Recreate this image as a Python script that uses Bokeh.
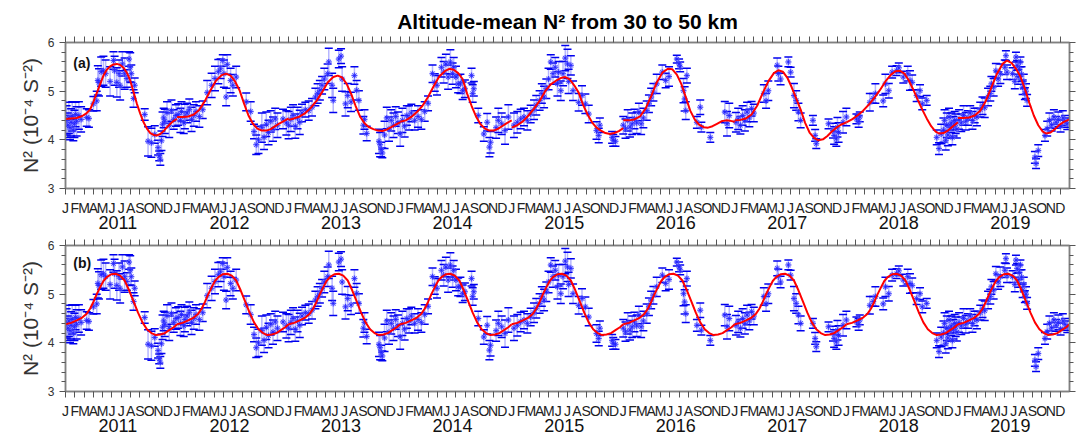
from bokeh.plotting import figure
from bokeh.models import (FixedTicker, LinearAxis, CustomJSTickFormatter, Range1d,
                          Label, ColumnDataSource, CustomLabelingPolicy)
from bokeh.layouts import column
from bokeh.embed import file_html
from bokeh.resources import INLINE

# ---------------- data ----------------
YEARS = [2011, 2012, 2013, 2014, 2015, 2016, 2017, 2018, 2019]
MONTH_LETTERS = ["J", "F", "M", "A", "M", "J", "J", "A", "S", "O", "N", "D"]
Y_TICKS = [3, 4, 5, 6]
TITLE = "Altitude-mean N² from 30 to 50 km"
Y_LABEL = "N² (10⁻⁴ S⁻²)"
PANEL_TAGS = ["(a)", "(b)"]

# observations: (decimal year, N2 value, error half-width)
obs_2011 = [
    (2011.01, 4.40, 0.30), (2011.02, 4.30, 0.25), (2011.03, 4.45, 0.32), (2011.04, 4.25, 0.25), (2011.05, 4.36, 0.28),
    (2011.06, 4.48, 0.30), (2011.07, 4.20, 0.22), (2011.08, 4.33, 0.28), (2011.09, 4.52, 0.25), (2011.10, 4.38, 0.30),
    (2011.12, 4.50, 0.28), (2011.14, 4.42, 0.26), (2011.19, 4.46, 0.18), (2011.21, 4.44, 0.18), (2011.25, 4.74, 0.15),
    (2011.28, 4.80, 0.20), (2011.29, 5.22, 0.30), (2011.30, 5.18, 0.28), (2011.32, 5.40, 0.30), (2011.34, 5.42, 0.30),
    (2011.36, 5.36, 0.28), (2011.40, 5.20, 0.30), (2011.43, 5.63, 0.18), (2011.44, 5.42, 0.30), (2011.46, 5.18, 0.30),
    (2011.48, 5.36, 0.28), (2011.49, 5.12, 0.30), (2011.51, 5.56, 0.25), (2011.53, 5.36, 0.32), (2011.55, 5.26, 0.18),
    (2011.57, 5.66, 0.15), (2011.58, 5.49, 0.30), (2011.59, 5.36, 0.18), (2011.61, 4.85, 0.18), (2011.62, 5.12, 0.15),
    (2011.71, 4.52, 0.12), (2011.74, 3.97, 0.30), (2011.77, 3.94, 0.30), (2011.80, 4.11, 0.18), (2011.83, 3.84, 0.15),
    (2011.84, 3.67, 0.10), (2011.85, 3.60, 0.12), (2011.86, 3.98, 0.20), (2011.87, 4.32, 0.25), (2011.88, 4.45, 0.20),
    (2011.89, 4.38, 0.25), (2011.91, 4.56, 0.22), (2011.93, 4.30, 0.25), (2011.95, 4.60, 0.22), (2011.97, 4.42, 0.20),
    (2011.99, 4.50, 0.22),
]
obs_2012 = [
    (2012.01, 4.52, 0.22), (2012.03, 4.40, 0.25), (2012.04, 4.58, 0.20), (2012.06, 4.35, 0.22), (2012.07, 4.48, 0.25),
    (2012.09, 4.55, 0.20), (2012.11, 4.62, 0.22), (2012.13, 4.42, 0.25), (2012.15, 4.50, 0.22), (2012.17, 4.58, 0.20),
    (2012.20, 4.48, 0.22), (2012.23, 4.62, 0.18), (2012.27, 4.97, 0.25), (2012.31, 5.12, 0.25), (2012.34, 5.26, 0.25),
    (2012.37, 5.40, 0.25), (2012.39, 5.46, 0.20), (2012.41, 5.63, 0.12), (2012.42, 5.36, 0.28), (2012.44, 4.88, 0.18),
    (2012.45, 5.55, 0.20), (2012.48, 5.22, 0.25), (2012.50, 5.12, 0.22), (2012.53, 5.29, 0.22), (2012.62, 4.78, 0.18),
    (2012.66, 4.58, 0.20), (2012.69, 4.17, 0.15), (2012.71, 3.90, 0.20), (2012.73, 4.00, 0.28), (2012.76, 4.25, 0.30),
    (2012.78, 4.05, 0.25), (2012.80, 4.32, 0.25), (2012.82, 4.15, 0.25), (2012.84, 4.38, 0.22), (2012.86, 4.22, 0.25),
    (2012.88, 4.43, 0.22), (2012.90, 4.30, 0.25), (2012.95, 4.43, 0.20), (2012.98, 4.35, 0.25),
]
obs_2013 = [
    (2013.00, 4.30, 0.28), (2013.02, 4.42, 0.25), (2013.04, 4.50, 0.22), (2013.06, 4.28, 0.25), (2013.08, 4.45, 0.22),
    (2013.10, 4.36, 0.25), (2013.12, 4.55, 0.18), (2013.15, 4.62, 0.15), (2013.18, 4.60, 0.20), (2013.21, 4.67, 0.18),
    (2013.24, 4.88, 0.18), (2013.26, 4.95, 0.20), (2013.28, 5.02, 0.20), (2013.30, 5.12, 0.18), (2013.32, 5.25, 0.22),
    (2013.35, 5.36, 0.20), (2013.36, 5.60, 0.28), (2013.39, 5.12, 0.25), (2013.40, 4.81, 0.25), (2013.45, 5.66, 0.18),
    (2013.47, 5.72, 0.15), (2013.48, 5.25, 0.25), (2013.51, 4.74, 0.25), (2013.53, 4.91, 0.25), (2013.56, 4.78, 0.20),
    (2013.59, 5.32, 0.18), (2013.61, 5.02, 0.20), (2013.63, 4.81, 0.20), (2013.67, 4.30, 0.18), (2013.68, 4.42, 0.20),
    (2013.70, 4.13, 0.15), (2013.81, 3.97, 0.25), (2013.82, 3.90, 0.25), (2013.83, 3.80, 0.15), (2013.84, 3.73, 0.10),
    (2013.86, 4.10, 0.28), (2013.88, 4.45, 0.22), (2013.90, 4.22, 0.25), (2013.92, 4.40, 0.22), (2013.94, 4.30, 0.25),
    (2013.96, 4.48, 0.20), (2013.98, 4.35, 0.22),
]
obs_2014 = [
    (2014.00, 4.12, 0.25), (2014.02, 4.40, 0.25), (2014.04, 4.28, 0.22), (2014.06, 4.50, 0.20), (2014.08, 4.45, 0.25),
    (2014.10, 4.55, 0.18), (2014.13, 4.40, 0.20), (2014.16, 4.48, 0.22), (2014.19, 4.42, 0.20), (2014.22, 4.58, 0.20),
    (2014.25, 4.75, 0.15), (2014.29, 5.36, 0.18), (2014.31, 5.18, 0.18), (2014.33, 5.12, 0.20), (2014.37, 5.49, 0.20),
    (2014.39, 5.39, 0.22), (2014.41, 5.56, 0.20), (2014.43, 5.29, 0.25), (2014.45, 5.60, 0.25), (2014.47, 5.36, 0.22),
    (2014.48, 5.49, 0.20), (2014.50, 5.29, 0.22), (2014.52, 5.15, 0.18), (2014.54, 5.15, 0.20), (2014.56, 5.01, 0.18),
    (2014.58, 5.05, 0.18), (2014.64, 5.32, 0.15), (2014.65, 4.95, 0.18), (2014.66, 5.05, 0.15), (2014.70, 4.50, 0.15),
    (2014.75, 4.12, 0.15), (2014.78, 4.36, 0.18), (2014.80, 3.85, 0.20), (2014.81, 3.95, 0.22), (2014.86, 4.25, 0.22),
    (2014.88, 4.40, 0.25), (2014.91, 4.33, 0.22), (2014.94, 4.19, 0.28), (2014.97, 4.47, 0.25),
]
obs_2015 = [
    (2015.02, 4.30, 0.25), (2015.05, 4.36, 0.22), (2015.08, 4.43, 0.20), (2015.11, 4.47, 0.18), (2015.14, 4.40, 0.20),
    (2015.17, 4.53, 0.18), (2015.20, 4.62, 0.20), (2015.22, 4.71, 0.20), (2015.25, 4.81, 0.20), (2015.27, 4.95, 0.20),
    (2015.29, 4.88, 0.22), (2015.31, 5.05, 0.20), (2015.33, 5.25, 0.22), (2015.35, 5.60, 0.15), (2015.37, 5.36, 0.22),
    (2015.39, 5.49, 0.20), (2015.41, 5.15, 0.25), (2015.42, 5.39, 0.22), (2015.44, 5.01, 0.20), (2015.46, 5.36, 0.25),
    (2015.48, 5.68, 0.26), (2015.50, 5.56, 0.30), (2015.51, 5.20, 0.25), (2015.53, 5.53, 0.20), (2015.55, 5.01, 0.20),
    (2015.60, 4.77, 0.18), (2015.63, 4.91, 0.20), (2015.66, 4.74, 0.20), (2015.69, 4.53, 0.18), (2015.76, 4.19, 0.18),
    (2015.78, 4.09, 0.15), (2015.79, 4.30, 0.15), (2015.90, 4.05, 0.12), (2015.91, 3.99, 0.12), (2015.93, 3.97, 0.10),
]
obs_2016 = [
    (2016.00, 4.30, 0.18), (2016.02, 4.23, 0.20), (2016.04, 4.40, 0.22), (2016.06, 4.26, 0.20), (2016.08, 4.33, 0.22),
    (2016.10, 4.43, 0.20), (2016.12, 4.35, 0.22), (2016.14, 4.57, 0.18), (2016.16, 4.33, 0.22), (2016.18, 4.45, 0.20),
    (2016.21, 4.60, 0.20), (2016.23, 4.74, 0.18), (2016.25, 4.88, 0.18), (2016.27, 4.98, 0.18), (2016.30, 5.15, 0.20),
    (2016.35, 5.39, 0.15), (2016.38, 5.22, 0.15), (2016.41, 5.30, 0.20), (2016.48, 5.66, 0.08), (2016.50, 5.56, 0.10),
    (2016.51, 5.50, 0.10), (2016.54, 5.01, 0.25), (2016.55, 4.84, 0.25), (2016.56, 4.60, 0.18), (2016.57, 5.32, 0.15),
    (2016.66, 4.36, 0.12), (2016.69, 4.67, 0.15), (2016.70, 4.26, 0.10), (2016.78, 4.05, 0.10),
    (2016.91, 4.57, 0.22), (2016.93, 4.33, 0.25), (2016.95, 4.50, 0.25),
]
obs_2017 = [
    (2017.01, 4.36, 0.20), (2017.03, 4.43, 0.22), (2017.05, 4.30, 0.18), (2017.07, 4.50, 0.20), (2017.09, 4.40, 0.22),
    (2017.11, 4.57, 0.20), (2017.13, 4.45, 0.18), (2017.15, 4.64, 0.15), (2017.17, 4.55, 0.18), (2017.26, 4.95, 0.18),
    (2017.28, 4.80, 0.15), (2017.30, 5.01, 0.20), (2017.38, 5.53, 0.15), (2017.39, 5.36, 0.15), (2017.41, 5.25, 0.12),
    (2017.48, 5.60, 0.10), (2017.50, 5.39, 0.10), (2017.53, 4.91, 0.25), (2017.55, 4.81, 0.20), (2017.57, 4.57, 0.18),
    (2017.59, 4.40, 0.15), (2017.70, 4.40, 0.10), (2017.72, 4.09, 0.12), (2017.73, 3.92, 0.10), (2017.84, 4.33, 0.10),
    (2017.88, 4.19, 0.15), (2017.89, 4.09, 0.18), (2017.91, 4.02, 0.15), (2017.92, 4.26, 0.20), (2017.93, 4.15, 0.20),
    (2017.97, 4.36, 0.22), (2018.00, 4.47, 0.18),
]
obs_2018 = [
    (2018.09, 4.43, 0.10), (2018.11, 4.38, 0.12), (2018.12, 4.47, 0.10), (2018.21, 4.77, 0.18), (2018.24, 4.85, 0.10),
    (2018.26, 4.95, 0.20), (2018.33, 4.80, 0.12), (2018.35, 5.15, 0.20), (2018.38, 5.01, 0.15), (2018.41, 5.39, 0.12),
    (2018.45, 5.42, 0.10), (2018.47, 5.48, 0.10), (2018.51, 5.29, 0.12), (2018.55, 5.36, 0.15), (2018.57, 5.22, 0.20),
    (2018.59, 5.18, 0.15), (2018.63, 4.91, 0.12), (2018.66, 5.01, 0.12), (2018.68, 4.74, 0.12), (2018.72, 4.81, 0.10),
    (2018.81, 4.05, 0.15), (2018.83, 3.82, 0.12), (2018.85, 4.12, 0.20), (2018.87, 4.20, 0.25), (2018.88, 4.40, 0.22),
    (2018.89, 3.99, 0.20), (2018.90, 4.30, 0.25), (2018.91, 4.10, 0.22), (2018.92, 4.47, 0.18), (2018.93, 4.25, 0.22),
    (2018.94, 4.35, 0.20), (2018.95, 4.05, 0.15), (2018.96, 4.28, 0.20), (2018.97, 4.40, 0.18), (2018.98, 4.33, 0.20),
    (2018.99, 4.22, 0.18),
]
obs_2019 = [
    (2019.01, 4.42, 0.20), (2019.03, 4.35, 0.18), (2019.05, 4.50, 0.20), (2019.07, 4.38, 0.18), (2019.09, 4.45, 0.15),
    (2019.11, 4.55, 0.15), (2019.13, 4.40, 0.18), (2019.15, 4.50, 0.15), (2019.17, 4.47, 0.18), (2019.20, 4.62, 0.15),
    (2019.22, 4.70, 0.18), (2019.24, 4.66, 0.20), (2019.27, 4.88, 0.18), (2019.29, 4.95, 0.15), (2019.30, 5.15, 0.15),
    (2019.32, 5.08, 0.18), (2019.34, 5.42, 0.15), (2019.36, 5.25, 0.15), (2019.38, 5.36, 0.20), (2019.42, 5.49, 0.15),
    (2019.43, 5.73, 0.10), (2019.44, 5.39, 0.15), (2019.49, 5.36, 0.12), (2019.51, 5.20, 0.15), (2019.52, 5.70, 0.10),
    (2019.53, 5.53, 0.10), (2019.54, 5.29, 0.15), (2019.55, 5.45, 0.15), (2019.56, 5.60, 0.10), (2019.57, 5.35, 0.15),
    (2019.58, 5.08, 0.15), (2019.59, 5.20, 0.15), (2019.60, 4.95, 0.12), (2019.61, 5.00, 0.15), (2019.62, 4.81, 0.12),
    (2019.69, 3.64, 0.12), (2019.70, 3.51, 0.10), (2019.72, 3.78, 0.12), (2019.78, 4.09, 0.12), (2019.80, 4.23, 0.15),
    (2019.82, 4.40, 0.15), (2019.84, 4.30, 0.12), (2019.86, 4.47, 0.15), (2019.88, 4.36, 0.12), (2019.90, 4.42, 0.15),
    (2019.92, 4.28, 0.12), (2019.94, 4.45, 0.15), (2019.96, 4.38, 0.12), (2019.98, 4.33, 0.12),
]

# panel (a): year-by-year fitted curve, (fraction of year, value)
fit_a_2011 = [(0.00, 4.43), (0.05, 4.44), (0.10, 4.45), (0.15, 4.49), (0.19, 4.55), (0.22, 4.62), (0.25, 4.78),
              (0.28, 4.96), (0.31, 5.14), (0.34, 5.32), (0.37, 5.44), (0.40, 5.51), (0.43, 5.55), (0.46, 5.56),
              (0.49, 5.54), (0.52, 5.48), (0.55, 5.38), (0.58, 5.22), (0.61, 4.98), (0.64, 4.74), (0.67, 4.54),
              (0.70, 4.36), (0.73, 4.23), (0.76, 4.14), (0.79, 4.10), (0.82, 4.09), (0.85, 4.12), (0.88, 4.18),
              (0.91, 4.26), (0.94, 4.33), (0.97, 4.39), (1.00, 4.43)]
fit_a_2012 = [(0.00, 4.47), (0.05, 4.47), (0.10, 4.48), (0.15, 4.52), (0.20, 4.62), (0.25, 4.80), (0.30, 5.02),
              (0.35, 5.22), (0.40, 5.33), (0.44, 5.36), (0.48, 5.32), (0.52, 5.20), (0.56, 5.02), (0.60, 4.75),
              (0.64, 4.50), (0.68, 4.33), (0.72, 4.23), (0.76, 4.19), (0.80, 4.19), (0.84, 4.22), (0.88, 4.28),
              (0.92, 4.34), (0.96, 4.39), (1.00, 4.44)]
fit_a_2013 = [(0.00, 4.41), (0.05, 4.44), (0.10, 4.48), (0.15, 4.55), (0.20, 4.66), (0.25, 4.80), (0.30, 4.98),
              (0.35, 5.18), (0.40, 5.29), (0.44, 5.32), (0.48, 5.28), (0.52, 5.15), (0.56, 4.95), (0.60, 4.70),
              (0.64, 4.48), (0.68, 4.34), (0.72, 4.26), (0.76, 4.22), (0.80, 4.19), (0.84, 4.18), (0.88, 4.21),
              (0.92, 4.26), (0.96, 4.31), (1.00, 4.36)]
fit_a_2014 = [(0.00, 4.37), (0.05, 4.40), (0.10, 4.47), (0.15, 4.57), (0.20, 4.70), (0.25, 4.88), (0.30, 5.10),
              (0.35, 5.30), (0.40, 5.41), (0.44, 5.46), (0.48, 5.44), (0.52, 5.37), (0.56, 5.25), (0.60, 4.95),
              (0.64, 4.70), (0.68, 4.48), (0.72, 4.32), (0.76, 4.23), (0.80, 4.19), (0.84, 4.19), (0.88, 4.23),
              (0.92, 4.29), (0.96, 4.35), (1.00, 4.40)]
fit_a_2015 = [(0.00, 4.25), (0.05, 4.30), (0.10, 4.38), (0.15, 4.50), (0.20, 4.64), (0.25, 4.80), (0.30, 5.00),
              (0.35, 5.14), (0.40, 5.22), (0.44, 5.27), (0.48, 5.29), (0.52, 5.24), (0.56, 5.12), (0.60, 4.97),
              (0.64, 4.72), (0.68, 4.52), (0.72, 4.36), (0.76, 4.25), (0.80, 4.19), (0.84, 4.14), (0.88, 4.12),
              (0.92, 4.14), (0.96, 4.18), (1.00, 4.24)]
fit_a_2016 = [(0.00, 4.40), (0.05, 4.40), (0.10, 4.42), (0.15, 4.48), (0.20, 4.64), (0.25, 4.90), (0.30, 5.18),
              (0.35, 5.38), (0.40, 5.46), (0.44, 5.45), (0.48, 5.34), (0.52, 5.15), (0.56, 4.88), (0.60, 4.60),
              (0.64, 4.42), (0.68, 4.31), (0.72, 4.26), (0.76, 4.25), (0.80, 4.28), (0.84, 4.33), (0.88, 4.38),
              (0.92, 4.40), (0.96, 4.39), (1.00, 4.37)]
fit_a_2017 = [(0.00, 4.40), (0.05, 4.41), (0.10, 4.44), (0.15, 4.52), (0.20, 4.70), (0.25, 4.96), (0.30, 5.20),
              (0.35, 5.37), (0.39, 5.43), (0.43, 5.40), (0.47, 5.28), (0.51, 5.08), (0.55, 4.85), (0.59, 4.62),
              (0.63, 4.35), (0.67, 4.15), (0.71, 4.04), (0.75, 3.99), (0.79, 4.01), (0.83, 4.08), (0.87, 4.17),
              (0.91, 4.25), (0.95, 4.31), (1.00, 4.36)]
fit_a_2018 = [(0.00, 4.36), (0.05, 4.42), (0.10, 4.50), (0.15, 4.60), (0.20, 4.72), (0.25, 4.86), (0.30, 5.02),
              (0.35, 5.20), (0.40, 5.34), (0.44, 5.41), (0.48, 5.42), (0.52, 5.36), (0.56, 5.22), (0.60, 5.03),
              (0.64, 4.82), (0.68, 4.62), (0.72, 4.44), (0.76, 4.28), (0.80, 4.17), (0.83, 4.13), (0.87, 4.14),
              (0.91, 4.19), (0.95, 4.27), (1.00, 4.36)]
fit_a_2019 = [(0.00, 4.45), (0.05, 4.45), (0.10, 4.46), (0.15, 4.50), (0.20, 4.60), (0.25, 4.80), (0.30, 5.08),
              (0.35, 5.36), (0.40, 5.56), (0.44, 5.63), (0.48, 5.58), (0.52, 5.46), (0.56, 5.30), (0.60, 5.05),
              (0.64, 4.76), (0.68, 4.50), (0.72, 4.30), (0.76, 4.17), (0.79, 4.13), (0.83, 4.15), (0.87, 4.22),
              (0.91, 4.31), (0.95, 4.37), (1.00, 4.42)]
FIT_A = {2011: fit_a_2011, 2012: fit_a_2012, 2013: fit_a_2013, 2014: fit_a_2014, 2015: fit_a_2015,
         2016: fit_a_2016, 2017: fit_a_2017, 2018: fit_a_2018, 2019: fit_a_2019}

# panel (b): the same mean seasonal curve repeated every year, (fraction of year, value)
clim_b = [(0.00, 4.38), (0.05, 4.41), (0.10, 4.46), (0.15, 4.52), (0.19, 4.60), (0.22, 4.70), (0.25, 4.84),
          (0.28, 5.00), (0.31, 5.14), (0.34, 5.27), (0.37, 5.35), (0.41, 5.41), (0.45, 5.42), (0.49, 5.38),
          (0.53, 5.28), (0.57, 5.08), (0.61, 4.85), (0.65, 4.62), (0.69, 4.42), (0.73, 4.28), (0.77, 4.20),
          (0.81, 4.16), (0.85, 4.17), (0.89, 4.20), (0.93, 4.26), (0.97, 4.32), (1.00, 4.38)]

# ---------------- build ----------------
OBS = obs_2011 + obs_2012 + obs_2013 + obs_2014 + obs_2015 + obs_2016 + obs_2017 + obs_2018 + obs_2019
obs_t = [r[0] for r in OBS]
obs_v = [r[1] for r in OBS]
obs_e = [r[2] for r in OBS]

FONT = "Liberation Sans"
GRAY = "#808080"
TXT = "#333333"

month_ticks = [y + m / 12 for y in YEARS for m in range(12)]
year_ticks = [y + 0.47 for y in YEARS]
y_minor = [3 + 0.2 * k for k in range(16) if k % 5]

month_fmt = CustomJSTickFormatter(args=dict(letters=MONTH_LETTERS), code="""
const i = Math.round((tick - 2011) * 12);
return letters[((i % 12) + 12) % 12];
""")
year_fmt = CustomJSTickFormatter(code="return String(Math.floor(tick));")


def no_labels():
    return CustomLabelingPolicy(code="return new Set();")


def style_axis(ax):
    ax.axis_line_color = GRAY
    ax.axis_line_width = 1.5
    ax.major_tick_line_color = "#555555"
    ax.minor_tick_line_color = "#555555"
    ax.major_tick_in = 0
    ax.minor_tick_in = 0
    ax.major_label_text_font = FONT
    ax.major_label_text_color = TXT


def make_panel(tag, tag_y, xs, ys, top, bottom, title=None):
    p = figure(frame_width=1004, frame_height=146, x_range=Range1d(2011, 2020), y_range=Range1d(3, 6),
               output_backend="svg", toolbar_location=None, title=title,
               min_border_left=65, min_border_right=11, min_border_top=top, min_border_bottom=bottom,
               x_axis_type=None, y_axis_type=None)
    p.outline_line_color = GRAY
    p.outline_line_width = 1.5
    p.xgrid.visible = False
    p.ygrid.visible = False
    p.background_fill_color = "white"
    p.border_fill_color = "white"
    if title is not None:
        p.title.align = "center"
        p.title.text_font = FONT
        p.title.text_font_size = "21px"
        p.title.text_font_style = "bold"
        p.title.text_color = "#000000"
        p.title.standoff = 8

    # left axis
    left = LinearAxis(ticker=FixedTicker(ticks=Y_TICKS, minor_ticks=y_minor))
    style_axis(left)
    left.major_tick_out = 6
    left.minor_tick_out = 4
    left.major_label_standoff = 5
    left.major_label_text_font_size = "12px"
    left.axis_label = Y_LABEL
    left.axis_label_text_font = FONT
    left.axis_label_text_font_size = "21px"
    left.axis_label_text_font_style = "normal"
    left.axis_label_text_color = TXT
    left.axis_label_standoff = 3
    p.add_layout(left, "left")

    # right axis (ticks only)
    right = LinearAxis(ticker=FixedTicker(ticks=Y_TICKS, minor_ticks=y_minor))
    style_axis(right)
    right.major_tick_out = 6
    right.minor_tick_out = 4
    right.major_label_text_font_size = "0px"
    right.major_label_standoff = 0
    right.major_label_policy = no_labels()
    p.add_layout(right, "right")

    # top axis (ticks only)
    topax = LinearAxis(ticker=FixedTicker(ticks=month_ticks, minor_ticks=[]))
    style_axis(topax)
    topax.major_tick_out = 6
    topax.major_label_text_font_size = "0px"
    topax.major_label_standoff = 0
    topax.major_label_policy = no_labels()
    p.add_layout(topax, "above")

    # bottom axis: month letters
    mon = LinearAxis(ticker=FixedTicker(ticks=month_ticks, minor_ticks=[]), formatter=month_fmt)
    style_axis(mon)
    mon.major_tick_out = 6
    mon.major_label_standoff = 5
    mon.major_label_text_font_size = "14px"
    mon.major_label_text_color = "#222222"
    p.add_layout(mon, "below")

    # bottom axis: year labels
    yr = LinearAxis(ticker=FixedTicker(ticks=year_ticks, minor_ticks=[]), formatter=year_fmt)
    yr.axis_line_color = None
    yr.major_tick_line_color = None
    yr.major_tick_out = 0
    yr.major_tick_in = 0
    yr.major_label_standoff = -3
    yr.major_label_text_font = FONT
    yr.major_label_text_font_size = "18px"
    yr.major_label_text_color = "#111111"
    p.add_layout(yr, "below")

    # error bars
    src = ColumnDataSource(dict(t=obs_t, v=obs_v,
                                lo=[v - e for v, e in zip(obs_v, obs_e)],
                                hi=[v + e for v, e in zip(obs_v, obs_e)]))
    p.segment(x0="t", y0="lo", x1="t", y1="hi", source=src, line_color="#7a7aff", line_alpha=0.55,
              line_width=1.5)
    p.scatter(x="t", y="lo", source=src, marker="dash", size=8, line_color="#0000ee", line_width=1.5)
    p.scatter(x="t", y="hi", source=src, marker="dash", size=8, line_color="#0000ee", line_width=1.5)
    p.scatter(x="t", y="v", source=src, marker="circle", size=6, fill_color="#9090ff", fill_alpha=0.45,
              line_color=None)
    p.scatter(x="t", y="v", source=src, marker="asterisk", size=6, line_color="#2020ff", line_alpha=0.8,
              line_width=1)

    # fitted curve
    p.multi_line(xs=xs, ys=ys, line_color="red", line_width=2)

    p.add_layout(Label(x=2011.07, y=tag_y, text=tag, text_font=FONT, text_font_size="14px",
                       text_font_style="bold", text_baseline="middle", text_align="left",
                       text_color="#111111"))
    return p


xs_a = [[y + f for f, _ in FIT_A[y]] for y in YEARS]
ys_a = [[v for _, v in FIT_A[y]] for y in YEARS]
xs_b = [[y + f for f, _ in clim_b] for y in YEARS]
ys_b = [[v for _, v in clim_b] for y in YEARS]

pa = make_panel(PANEL_TAGS[0], 5.58, xs_a, ys_a, top=42, bottom=46, title=TITLE)
pb = make_panel(PANEL_TAGS[1], 5.64, xs_b, ys_b, top=11, bottom=43)

layout = column(pa, pb, spacing=0)
open("out.html", "w").write(file_html(layout, INLINE))
